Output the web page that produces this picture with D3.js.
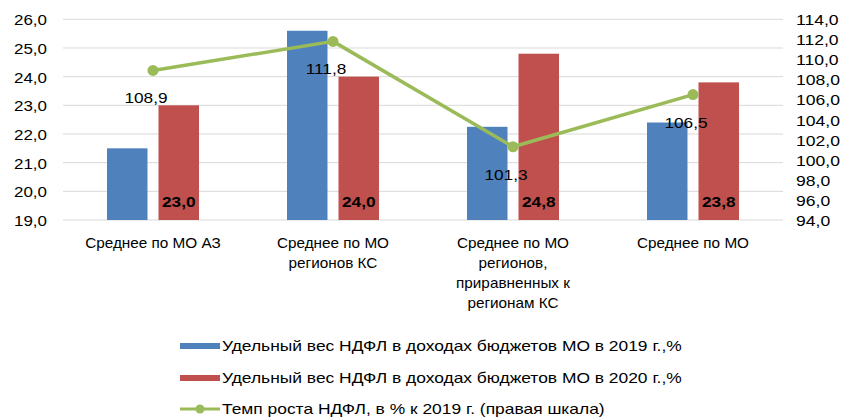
<!DOCTYPE html>
<html><head><meta charset="utf-8">
<script src="https://cdn.jsdelivr.net/npm/d3@7"></script>
<style>
body{margin:0;background:#fff;}
svg text{font-family:"Liberation Sans",Arial,sans-serif;fill:#000;}
</style></head>
<body><svg id="c" width="842" height="417"></svg>
<script>
const categories = [
  ["Среднее по МО АЗ"],
  ["Среднее по МО", "регионов КС"],
  ["Среднее по МО", "регионов,", "приравненных к", "регионам КС"],
  ["Среднее по МО"]
];
const share2019 = [21.5, 25.6, 22.25, 22.4];
const share2020 = [23.0, 24.0, 24.8, 23.8];
const growth = [108.9, 111.8, 101.3, 106.5];
const leftTicks = [19, 20, 21, 22, 23, 24, 25, 26];
const rightTicks = [94, 96, 98, 100, 102, 104, 106, 108, 110, 112, 114];
const legendLabels = [
  "Удельный вес НДФЛ в доходах бюджетов МО в 2019 г.,%",
  "Удельный вес НДФЛ в доходах бюджетов МО в 2020 г.,%",
  "Темп роста НДФЛ, в % к 2019 г. (правая шкала)"
];
const colors = {b: "#4F81BD", r: "#C0504D", g: "#9BBB59", grid: "#D9D9D9"};
const fmt = v => v.toFixed(1).replace(".", ",");

// horizontal stretch helper (reference text is drawn wider than the available fonts)
function stretch(sel, k) {
  sel.each(function () {
    const w = this.getComputedTextLength();
    d3.select(this).attr("textLength", w * k).attr("lengthAdjust", "spacingAndGlyphs");
  });
}

const svg = d3.select("#c");
const L = 63, R = 783, T = 19.3, B = 220;
const catIdx = categories.map((d, i) => i);
const x0 = d3.scaleBand().domain(catIdx).range([L, R]);
const x1 = d3.scaleBand().domain(["2019", "2020"]).range([-46, 46]).paddingInner(0.2136);
const yL = d3.scaleLinear().domain([19, 26]).range([B, T]);
const yR = d3.scaleLinear().domain([94, 114]).range([B, T]);
const cx = i => x0(i) + x0.bandwidth() / 2;

// gridlines
svg.append("g").selectAll("line").data(leftTicks).join("line")
  .attr("x1", L).attr("x2", R)
  .attr("y1", d => yL(d)).attr("y2", d => yL(d))
  .attr("stroke", colors.grid).attr("stroke-width", 1);

// axes
const axL = svg.append("g").attr("transform", `translate(${L},0)`)
  .call(d3.axisLeft(yL).tickValues(leftTicks).tickFormat(fmt).tickSize(0).tickPadding(16));
axL.attr("font-family", null).attr("font-size", null);
axL.select(".domain").remove();
axL.selectAll("text").attr("font-size", 15).attr("dy", "0.36em").call(stretch, 1.13);

const axR = svg.append("g").attr("transform", `translate(${R},0)`)
  .call(d3.axisRight(yR).tickValues(rightTicks).tickFormat(fmt).tickSize(0).tickPadding(13));
axR.attr("font-family", null).attr("font-size", null);
axR.select(".domain").remove();
axR.selectAll("text").attr("font-size", 15).attr("dy", "0.36em").call(stretch, 1.17);

// bars
svg.append("g").selectAll("rect").data(share2019).join("rect")
  .attr("x", (d, i) => cx(i) + x1("2019")).attr("width", x1.bandwidth())
  .attr("y", d => yL(d)).attr("height", d => yL(19) - yL(d))
  .attr("fill", colors.b);
svg.append("g").selectAll("rect").data(share2020).join("rect")
  .attr("x", (d, i) => cx(i) + x1("2020")).attr("width", x1.bandwidth())
  .attr("y", d => yL(d)).attr("height", d => yL(19) - yL(d))
  .attr("fill", colors.r);

// red bar labels
svg.append("g").selectAll("text").data(share2020).join("text")
  .attr("x", (d, i) => cx(i) + x1("2020") + x1.bandwidth() / 2)
  .attr("y", yL(19) - 13.5)
  .attr("text-anchor", "middle").attr("font-size", 15).attr("font-weight", "bold")
  .text(fmt).call(stretch, 1.15);

// line series
const line = d3.line().x((d, i) => cx(i)).y(d => yR(d));
svg.append("path").datum(growth).attr("d", line)
  .attr("fill", "none").attr("stroke", colors.g).attr("stroke-width", 3.5).attr("stroke-linejoin", "round");
svg.append("g").selectAll("circle").data(growth).join("circle")
  .attr("cx", (d, i) => cx(i)).attr("cy", d => yR(d)).attr("r", 5.5)
  .attr("fill", colors.g);
svg.append("g").selectAll("text").data(growth).join("text")
  .attr("x", (d, i) => cx(i) - 7).attr("y", d => yR(d) + 33)
  .attr("text-anchor", "middle").attr("font-size", 15)
  .text(fmt).call(stretch, 1.15);

// category labels
const catLines = categories.flatMap((lines, i) => lines.map((t, j) => ({t, i, j})));
svg.append("g").selectAll("text").data(catLines).join("text")
  .attr("x", d => cx(d.i)).attr("y", d => 248.4 + d.j * 20)
  .attr("text-anchor", "middle").attr("font-size", 15)
  .text(d => d.t).call(stretch, 1.02);

// legend
const lg = svg.append("g");
const ly = [346, 378, 409];
lg.append("rect").attr("x", 180).attr("y", ly[0] - 3).attr("width", 40).attr("height", 6).attr("fill", colors.b);
lg.append("rect").attr("x", 180).attr("y", ly[1] - 3).attr("width", 40).attr("height", 6).attr("fill", colors.r);
lg.append("line").attr("x1", 180).attr("x2", 220).attr("y1", ly[2]).attr("y2", ly[2])
  .attr("stroke", colors.g).attr("stroke-width", 3);
lg.append("circle").attr("cx", 200).attr("cy", ly[2]).attr("r", 4.5).attr("fill", colors.g);
lg.selectAll("text.l").data(legendLabels).join("text").attr("class", "l")
  .attr("x", 222).attr("y", (d, i) => ly[i] + 5.4).attr("font-size", 15)
  .text(d => d).call(stretch, 1.16);
</script></body></html>
